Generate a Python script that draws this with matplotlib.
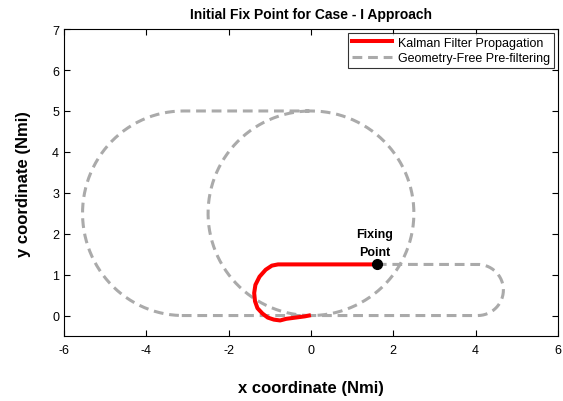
import numpy as np
import matplotlib
matplotlib.use("Agg")
import matplotlib.pyplot as plt

plt.rcParams['font.family'] = ['Liberation Sans', 'DejaVu Sans']
plt.rcParams['axes.unicode_minus'] = False

# Kalman filter propagation path
kf_x = [1.60, 1.0, 0.0, -0.80, -0.95, -1.10, -1.25, -1.35, -1.38, -1.36, -1.30, -1.18, -1.05, -0.90, -0.75, -0.60, -0.45, -0.30, -0.15, -0.05]
kf_y = [1.25, 1.25, 1.25, 1.25, 1.22, 1.12, 0.95, 0.75, 0.55, 0.35, 0.18, 0.05, -0.05, -0.10, -0.12, -0.08, -0.06, -0.04, -0.02, 0.0]

# Geometry-free pre-filtering path: straight legs and arcs (center x, center y, rx, ry, start deg, end deg)
gf_lines = [((1.60, 1.25), (4.05, 1.25)), ((4.05, 0.0), (-3.20, 0.0)), ((-3.05, 5.0), (0.0, 5.0))]
gf_arcs = [(4.05, 0.625, 0.625, 0.625, 90, -90),
           (-3.10, 2.5, 2.45, 2.5, 270, 90),
           (0.0, 2.5, 2.5, 2.5, 90, -270)]

fix_x, fix_y = 1.6, 1.25

fig = plt.figure(figsize=(5.63, 4.02), dpi=100)
ax = fig.add_axes([0.1137, 0.1617, 0.8773, 0.7633])

# build gray path
gx, gy = [], []
order = [('l', 0), ('a', 0), ('l', 1), ('a', 1), ('l', 2), ('a', 2)]
for kind, i in order:
    if kind == 'l':
        (x0, y0), (x1, y1) = gf_lines[i]
        gx += [x0, x1]; gy += [y0, y1]
    else:
        cx, cy, rx, ry, a0, a1 = gf_arcs[i]
        t = np.radians(np.linspace(a0, a1, 120))
        gx += list(cx + rx * np.cos(t)); gy += list(cy + ry * np.sin(t))

ax.plot(gx, gy, color='#aaaaaa', lw=2.2, ls=(0, (3.2, 1.9)), label='Geometry-Free Pre-filtering', zorder=2)
ax.plot(kf_x, kf_y, color='red', lw=2.9, label='Kalman Filter Propagation', zorder=3, solid_joinstyle='round')
ax.plot([fix_x], [fix_y], 'o', color='black', ms=7, zorder=4)
ax.text(fix_x - 0.05, fix_y + 0.15, 'Fixing\nPoint', ha='center', va='bottom', fontsize=9,
        fontweight='bold', linespacing=1.7)

ax.set_xlim(-6, 6)
ax.set_ylim(-0.5, 7)
ax.set_xticks([-6, -4, -2, 0, 2, 4, 6])
ax.set_yticks([0, 1, 2, 3, 4, 5, 6, 7])
ax.tick_params(direction='in', top=True, right=True, labelsize=9, length=4, width=0.8)
ax.tick_params(axis='x', pad=6)
for s in ax.spines.values():
    s.set_linewidth(0.8)

ax.set_title('Initial Fix Point for Case - I Approach', fontsize=10, fontweight='bold', pad=8)
ax.set_xlabel('x coordinate (Nmi)', fontsize=12, fontweight='bold', labelpad=17)
ax.set_ylabel('y coordinate (Nmi)', fontsize=12, fontweight='bold', labelpad=15)

h, l = ax.get_legend_handles_labels()
leg = ax.legend(h[::-1], l[::-1], loc='upper right', fontsize=9, frameon=True, fancybox=False,
                edgecolor='black', borderaxespad=0.3, handlelength=3.2, borderpad=0.3,
                labelspacing=0.3, handletextpad=0.5)
leg.get_frame().set_linewidth(0.8)

fig.savefig('out.png', dpi=100)
